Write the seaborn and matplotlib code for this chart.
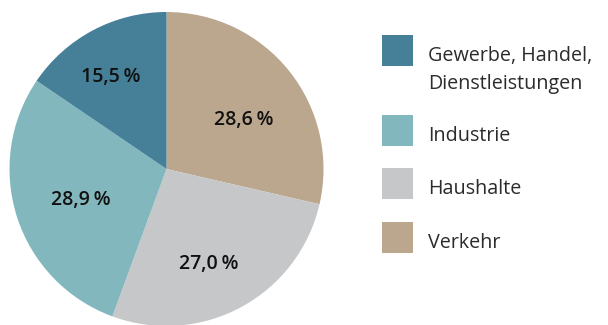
import numpy as np
import matplotlib
matplotlib.use("Agg")
import matplotlib.pyplot as plt
from matplotlib.patches import Rectangle
import seaborn as sns

# Energy consumption shares by sector
sectors = ["Verkehr", "Haushalte", "Industrie", "Gewerbe, Handel,\nDienstleistungen"]
shares = [28.6, 27.0, 28.9, 15.5]
share_labels = ["28,6\u2009%", "27,0\u2009%", "28,9\u2009%", "15,5\u2009%"]
colors = ["#BAA78E", "#C6C7C9", "#82B8BD", "#457F98"]

# legend order (top to bottom)
legend_order = [3, 2, 1, 0]

sns.set_theme(style="white")
plt.rcParams["font.family"] = ["Open Sans", "DejaVu Sans"]

W, H = 608, 325
fig = plt.figure(figsize=(W / 100, H / 100), dpi=100)
fig.patch.set_facecolor("white")

# pie axes: center (166.5, 169) px from top-left, radius 157 px
cx, cy, r = 166.5, 169.0, 157.0
ax = fig.add_axes([(cx - r) / W, (H - cy - r) / H, 2 * r / W, 2 * r / H])
palette = sns.color_palette(colors)
wedges, _ = ax.pie(shares, colors=palette, startangle=90, counterclock=False,
                   radius=1.0, wedgeprops=dict(linewidth=0))
ax.set_xlim(-1, 1)
ax.set_ylim(-1, 1)
ax.set_aspect("equal")
ax.axis("off")

# percentage labels, placed along each wedge's bisector
label_radius = [0.590, 0.653, 0.576, 0.695]
label_shift = [-5.3, -3.9, 1.1, 2.7]
half_cap = 6.7 / r
for w, txt, lr, sh in zip(wedges, share_labels, label_radius, label_shift):
    mid = np.deg2rad((w.theta1 + w.theta2) / 2 + sh)
    ax.text(lr * np.cos(mid), lr * np.sin(mid) - half_cap, txt, ha="center", va="baseline",
            fontsize=14, fontweight="semibold", color="#111111")

# legend drawn in pixel space
lax = fig.add_axes([0, 0, 1, 1])
lax.set_xlim(0, W)
lax.set_ylim(H, 0)
lax.axis("off")
box_tops = [35, 115, 168, 222]
for top, idx in zip(box_tops, legend_order):
    lax.add_patch(Rectangle((382, top), 31, 31, facecolor=palette[idx], edgecolor="none"))
    lines = sectors[idx].split("\n")
    for k, line in enumerate(lines):
        lax.text(428, top + 26 + 28 * k, line, ha="left", va="baseline",
                 fontsize=14.2, fontweight="normal", color="#2b2b2b")

fig.savefig("out.png", dpi=100, facecolor="white")
